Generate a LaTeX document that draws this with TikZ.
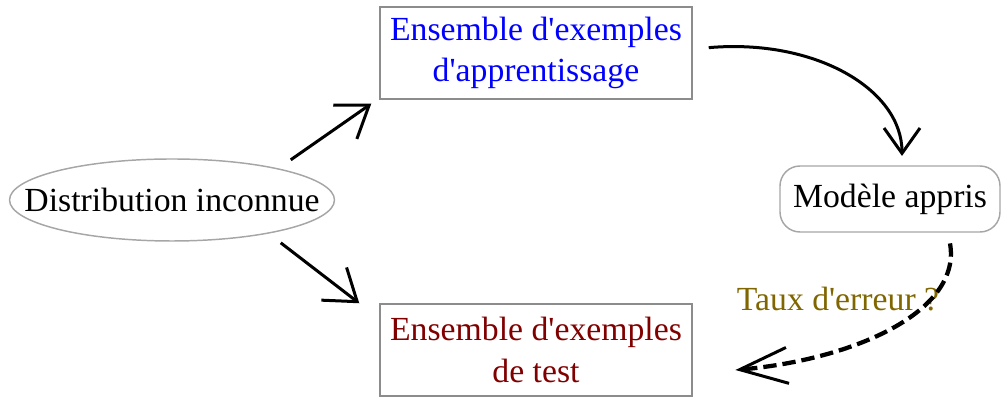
\documentclass[tikz,border=0pt]{standalone}
\usepackage{fontspec}
\setmainfont{Liberation Serif}
\usepackage{xcolor}
\usepackage{tikz}
\usetikzlibrary{
	arrows.meta,shapes
}
\definecolor{bleu}{RGB}{0,0,255}
\definecolor{rouge}{RGB}{128,0,0}
\definecolor{taux}{RGB}{128,102,0}

\begin{document}
\begin{tikzpicture}[x=0.75pt,y=0.75pt,font=\fontsize{25.3}{31}\selectfont,
	boite/.style={draw=gray!90,line width=1.1pt,minimum width=234pt,minimum height=69pt,align=center,inner sep=0pt},
	fleche/.style={line width=2.25pt,-{Straight Barb[length=22pt,width=31pt]}}]
	\useasboundingbox (0,0) rectangle (1003,398);
	\node[ellipse,draw=gray!70,line width=1.1pt,inner xsep=-24.5pt,inner ysep=0pt,minimum height=61.5pt] (A) at (172,198) {Distribution inconnue};
	\node[boite,text=bleu] (B) at (536,345) {Ensemble d\textquotesingle exemples\\d\textquotesingle apprentissage};
	\node[boite,text=rouge] (C) at (536,48) {Ensemble d\textquotesingle exemples\\de test};
	\node[draw=gray!70,line width=1.1pt,rounded corners=15pt,minimum width=165pt,minimum height=49.5pt,inner sep=0pt] (D) at (890,199) {Modèle appris};
	%
	%  ETIQUETTE
	%
	\node[text=taux] (E) at (838,99) {Taux d\textquotesingle erreur ?};
	%
	\path[fleche]
	([shift={(2.5pt,8pt)}]A.north east) edge ([shift={(-6pt,-3pt)}]B.south west)
	([shift={(-5pt,-10pt)}]A.south east) edge ([shift={(-15pt,0pt)}]C.north west)
	([shift={(12pt,4pt)}]B.east) edge[out=5,in=90,out distance=80pt,in distance=50pt,-{Straight Barb[length=19pt,width=27pt]}] ([shift={(9pt,7pt)}]D.north)
	([shift={(45pt,-8pt)}]D.south) edge[out=-80,in=5,out distance=52pt,in distance=89pt,line width=3.2pt,dash pattern=on 10pt off 4.5pt,-{Straight Barb[length=36pt,width=27pt,line width=2.25pt]}] ([shift={(32pt,-15pt)}]C.east);
\end{tikzpicture}
\end{document}
